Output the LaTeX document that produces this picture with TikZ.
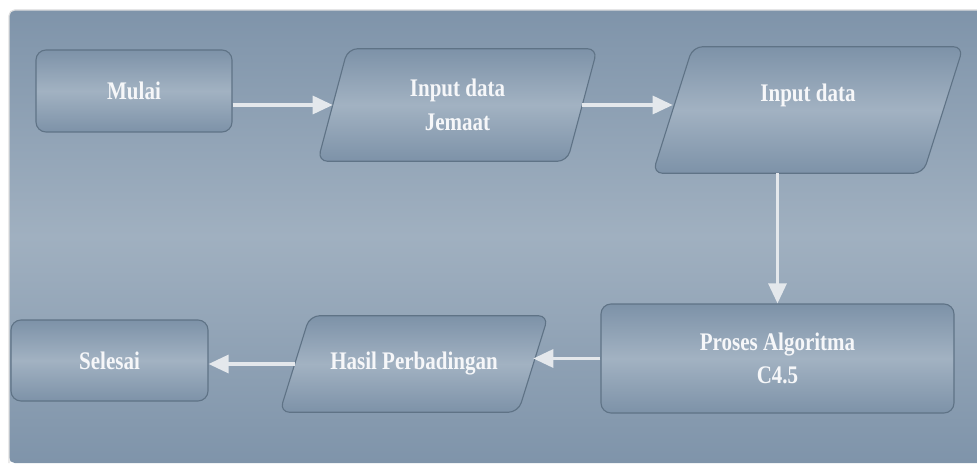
\documentclass[tikz,border=0pt]{standalone}
\usepackage{fontspec}
\setmainfont{Liberation Serif}[FakeStretch=0.83]
\usepackage{tikz}
\usetikzlibrary{arrows.meta}

\definecolor{panelend}{HTML}{7F94AA}
\definecolor{panelmid}{HTML}{A0B0C0}
\definecolor{boxend}{HTML}{7D92A8}
\definecolor{boxmid}{HTML}{A2B2C2}
\definecolor{boxline}{HTML}{5F7386}
\definecolor{arrowgrey}{HTML}{E4E8EC}
\definecolor{textwhite}{HTML}{F6F7F9}

\pgfdeclarelayer{panel}
\pgfdeclarelayer{shapes}
\pgfsetlayers{panel,shapes,main}

\tikzset{
    boxfill/.style={draw=boxline, line width=0.8pt, rounded corners=0.25cm,
        top color=boxend, bottom color=boxend, middle color=boxmid},
    boxtext/.style={text=textwhite, font=\fontsize{18}{24}\selectfont\bfseries,
        align=center, inner sep=0pt},
    startbox/.style={boxfill, boxtext, rectangle},
    iobox/.style={boxtext, rectangle},
    arr/.style={draw=arrowgrey, line width=2.2pt,
        -{Triangle[length=0.5cm, width=0.45cm, fill=arrowgrey]}}
}

% parallelogram round an io node: #1 node name, #2 half the slant
\newcommand{\slantbox}[2]{
    \begin{pgfonlayer}{shapes}
        \draw[boxfill] ([xshift=#2]#1.north west) -- ([xshift=#2]#1.north east)
            -- ([xshift=-#2]#1.south east) -- ([xshift=-#2]#1.south west) -- cycle;
    \end{pgfonlayer}
}

\begin{document}
\begin{tikzpicture}
    \useasboundingbox (0, 0) rectangle (24.425, 11.6);

    % Background panel
    \begin{pgfonlayer}{panel}
        \shade[top color=panelend, bottom color=panelend, middle color=panelmid,
            rounded corners=4pt] (0.225, 0.025) rectangle (24.6, 11.35);
        \draw[gray!25, line width=0.8pt, rounded corners=4pt]
            (0.225, 0.025) -- (0.225, 11.35) -- (24.6, 11.35);
    \end{pgfonlayer}

    % Top row
    \node[startbox, minimum width=4.9cm, minimum height=2.05cm] (mulai) at (3.35, 9.325) {Mulai};
    \node[iobox, minimum width=6.225cm, minimum height=2.8cm] (jemaat) at (11.4375, 8.975) {Input data\\Jemaat};
    \slantbox{jemaat}{0.375cm}
    \node[iobox, minimum width=6.75cm, minimum height=3.15cm] (input) at (20.2, 8.85) {Input data\\\mbox{}};
    \slantbox{input}{0.5cm}

    % Bottom row
    \node[startbox, minimum width=8.825cm, minimum height=2.725cm] (proses) at (19.4375, 2.6375) {Proses Algoritma\\C4.5};
    \node[iobox, minimum width=5.95cm, minimum height=2.4cm] (hasil) at (10.35, 2.5) {Hasil Perbadingan};
    \slantbox{hasil}{0.375cm}
    \node[startbox, minimum width=4.925cm, minimum height=2.025cm] (selesai) at (2.7375, 2.5875) {Selesai};

    % Arrows
    \draw[arr] (mulai.east |- jemaat.west) -- (jemaat.west);
    \draw[arr] (jemaat.east) -- (jemaat.east -| input.west);
    \draw[arr] (proses.north |- input.south) -- (proses.north);
    \draw[arr] (proses.west) -- (proses.west -| hasil.east);
    \draw[arr] (hasil.west) -- (hasil.west -| selesai.east);

\end{tikzpicture}
\end{document}
